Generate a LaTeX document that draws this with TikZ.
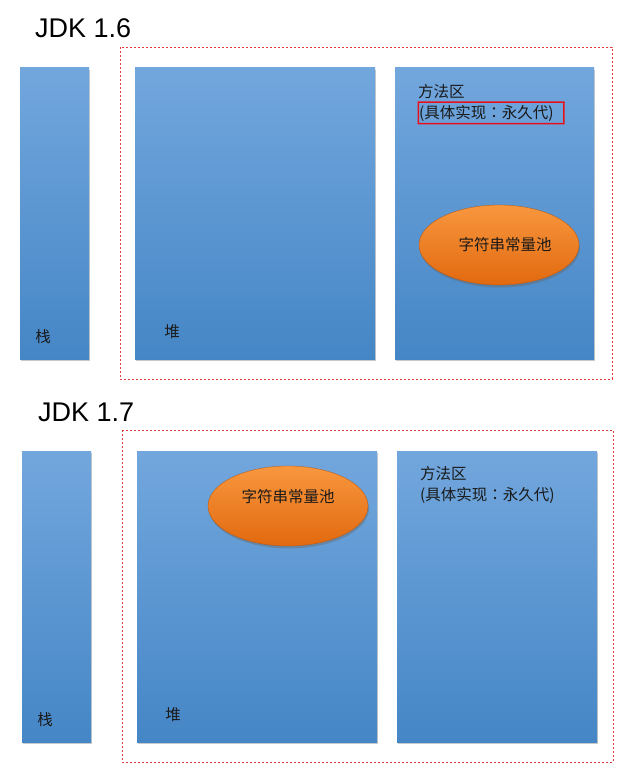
\documentclass[tikz,border=0pt]{standalone}
\usepackage{fontspec}
\setmainfont{Liberation Sans}
\newfontfamily\cjk{Noto Sans CJK SC}
\newfontfamily\cjktc{Noto Sans CJK TC}
\usetikzlibrary{shadows,shapes.geometric}
\definecolor{bluetop}{HTML}{72A7DD}
\definecolor{bluebot}{HTML}{4586C6}
\definecolor{orgtop}{HTML}{F8973E}
\definecolor{orgbot}{HTML}{E2690F}
\definecolor{dashred}{HTML}{E03A3A}
\definecolor{permred}{HTML}{E8101C}
\definecolor{txt}{HTML}{1A1A1A}
\tikzset{
  membox/.style={rectangle, anchor=north west, inner sep=0pt, outer sep=0pt,
    top color=bluetop, bottom color=bluebot, draw=none,
    drop shadow={shadow xshift=1pt, shadow yshift=-2pt, opacity=0.35, fill=black!60}},
  pool/.style={ellipse, inner sep=0pt, outer sep=0pt,
    top color=orgtop, bottom color=orgbot, draw=orgbot!80!black, line width=0.3pt,
    minimum width=160pt, minimum height=80pt,
    drop shadow={shadow xshift=1pt, shadow yshift=-2.5pt, opacity=0.4, fill=black!60}},
  region/.style={draw=dashred, dash pattern=on 2.2pt off 1.8pt, line width=0.7pt},
  title/.style={anchor=west, font=\fontsize{27}{30}\selectfont, text=black, inner sep=0pt},
  lbl/.style={font=\cjk\fontsize{15.5}{18}\selectfont, text=txt, inner sep=0pt},
  permbox/.style={fill=permred, even odd rule}
}
\newcommand{\fwcolon}{{\cjktc ：}}
\begin{document}
\begin{tikzpicture}[x=1pt,y=-1pt]
\useasboundingbox (0,0) rectangle (620,775);
\fill[white] (0,0) rectangle (620,775);

% ---------- JDK 1.6 ----------
\node[title] (t16) at (35,28) {JDK 1.6};
\draw[region] (120,47) rectangle (612,379);
\node[membox, minimum width=69pt, minimum height=291pt] (stack1) at (20,68) {};
\node[membox, minimum width=240pt, minimum height=291pt] (heap1) at (135,68) {};
\node[membox, minimum width=199pt, minimum height=291pt] (meth1) at (395,68) {};
\node[lbl] (s1l) at (43,337) {栈};
\node[lbl] (h1l) at (172,332) {堆};
\node[lbl, anchor=west] (m1a) at (418,92) {方法区};
\node[lbl, anchor=west] (m1b) at (419,113) {(具体实现\fwcolon 永久代)};
\fill[permbox] (417.5,101.5) rectangle (564.5,124.5) (419,103) rectangle (563,123);
\node[pool] (pool1) at (499,245) {};
\node[lbl] (p1l) at (505,245) {字符串常量池};

% ---------- JDK 1.7 ----------
\node[title] (t17) at (38,412) {JDK 1.7};
\draw[region] (122,430) rectangle (613,762);
\node[membox, minimum width=69pt, minimum height=291pt] (stack2) at (22,451) {};
\node[membox, minimum width=240pt, minimum height=291pt] (heap2) at (137,451) {};
\node[membox, minimum width=200pt, minimum height=291pt] (meth2) at (397,451) {};
\node[lbl] (s2l) at (45,720) {栈};
\node[lbl] (h2l) at (173,715) {堆};
\node[lbl, anchor=west] (m2a) at (420,474) {方法区};
\node[lbl, anchor=west] (m2b) at (420,495) {(具体实现\fwcolon 永久代)};
\node[pool] (pool2) at (288,506) {};
\node[lbl] (p2l) at (288,497) {字符串常量池};
\end{tikzpicture}
\end{document}
